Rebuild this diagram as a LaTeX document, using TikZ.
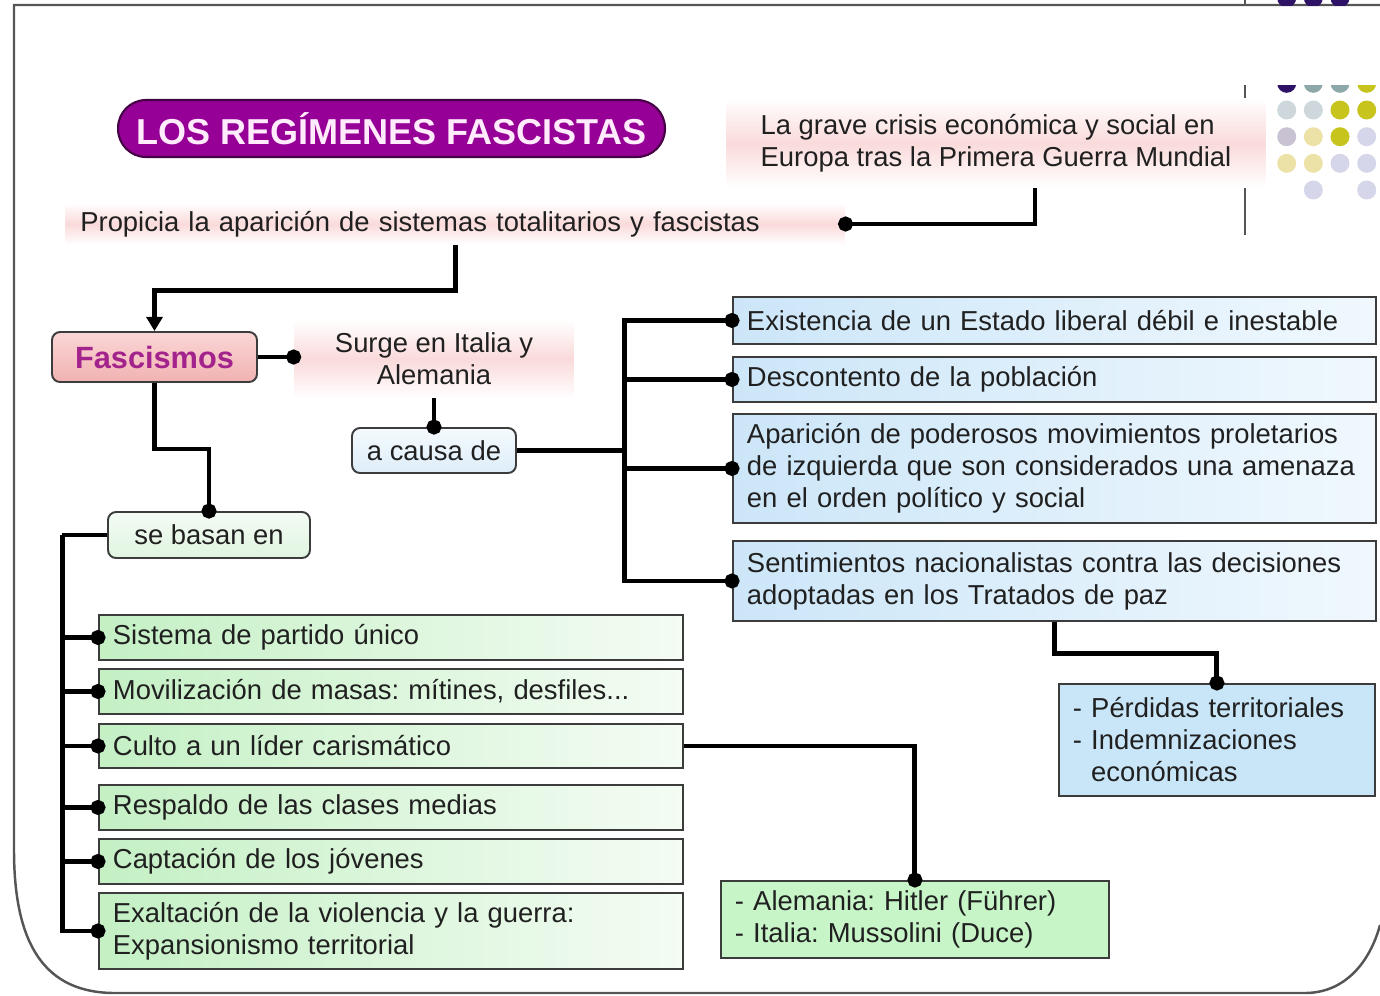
\documentclass[tikz,border=0pt]{standalone}
\usepackage{fontspec}
\setmainfont{Liberation Sans}
\frenchspacing
\usetikzlibrary{positioning}
\usetikzlibrary{arrows.meta}

\definecolor{titlepurple}{RGB}{150,0,150}
\definecolor{titleline}{RGB}{70,0,70}
\definecolor{titletext}{RGB}{255,235,252}
\definecolor{fascpink}{RGB}{163,35,140}
\definecolor{pinktop}{RGB}{251,214,214}
\definecolor{pinkbottom}{RGB}{241,178,178}
\definecolor{glowpink}{RGB}{250,218,218}
\definecolor{textgray}{RGB}{32,32,32}
\definecolor{boxline}{RGB}{60,60,60}
\definecolor{blueleft}{RGB}{204,230,248}
\definecolor{blueright}{RGB}{240,248,254}
\definecolor{bluetop}{RGB}{244,250,254}
\definecolor{bluebottom}{RGB}{222,237,249}
\definecolor{bluesolid}{RGB}{201,230,248}
\definecolor{greenleft}{RGB}{196,240,196}
\definecolor{greenright}{RGB}{244,252,244}
\definecolor{greentop}{RGB}{244,252,244}
\definecolor{greenbottom}{RGB}{224,244,224}
\definecolor{greensolid}{RGB}{200,245,200}
\definecolor{framegray}{RGB}{85,85,85}
\definecolor{dotpurple}{RGB}{45,18,102}
\definecolor{dotteal}{RGB}{140,168,168}
\definecolor{dotolive}{RGB}{200,196,30}
\definecolor{dotgray}{RGB}{206,216,220}
\definecolor{dotmauve}{RGB}{200,194,210}
\definecolor{dotcream}{RGB}{236,226,168}
\definecolor{dotlav}{RGB}{214,214,234}

\begin{document}
\begin{tikzpicture}[x=0.02cm, y=-0.02cm,
    every node/.style={font=\fontsize{15.6}{18.2}\selectfont, text=textgray},
    line/.style={line width=2.8pt},
    conn/.style={line, -{Circle[length=8.5pt]}, shorten >=-4.25pt},
    arr/.style={line, -{Triangle[length=8pt, width=9pt]}},
    box/.style={rectangle, draw=boxline, line width=1.1pt, anchor=north west, align=left, inner xsep=0.28cm, inner ysep=0pt},
    cause/.style={box, left color=blueleft, right color=blueright, text width=12.3cm},
    trait/.style={box, left color=greenleft, right color=greenright, text width=11.12cm},
    link/.style={rectangle, rounded corners=0.16cm, draw=boxline, line width=1.1pt, inner sep=0pt},
    glow/.style={rectangle, inner sep=0pt, top color=white, bottom color=white, middle color=glowpink}]
    \useasboundingbox (0,0) rectangle (1380,995);

    \draw[framegray, line width=1.4pt] (1380,5) -- (14,5) -- (14,850) .. controls (14,945) and (45,993) .. (115,993) -- (1305,993) .. controls (1345,993) and (1370,962) .. (1380,925);
    \draw[framegray, line width=0.8pt] (1245,0) -- (1245,5) (1245,85) -- (1245,235);
    \begin{scope}
        \clip (1260,0) rectangle (1380,5);
        \foreach \x in {1286.7,1313.3,1340}
            \fill[dotpurple] (\x,-2) circle[radius=0.19cm];
    \end{scope}
    \begin{scope}
        \clip (1260,85) rectangle (1380,100);
        \foreach \x/\c in {1286.7/dotpurple, 1313.3/dotteal, 1340/dotteal, 1366.7/dotolive}
            \fill[\c] (\x,83.3) circle[radius=0.19cm];
    \end{scope}
    \foreach \x/\y/\c in {1286.7/110/dotgray, 1313.3/110/dotgray, 1340/110/dotolive, 1366.7/110/dotolive,
        1286.7/136.7/dotmauve, 1313.3/136.7/dotcream, 1340/136.7/dotolive, 1366.7/136.7/dotlav,
        1286.7/163.3/dotcream, 1313.3/163.3/dotcream, 1340/163.3/dotlav, 1366.7/163.3/dotlav,
        1313.3/190/dotlav, 1366.7/190/dotlav}
        \fill[\c] (\x,\y) circle[radius=0.19cm];

    \node[rectangle, rounded corners=0.56cm, minimum width=10.94cm, minimum height=1.14cm, fill=titlepurple, draw=titleline, line width=1.2pt, font=\fontsize{20.5}{24}\selectfont\bfseries, text=titletext] (title) at (391.5,128.5) {LOS REGÍMENES FASCISTAS};

    \node[glow, align=left, minimum width=10.8cm, minimum height=1.8cm] (crisis) at (996,143) {La grave crisis económica y social en\\Europa tras la Primera Guerra Mundial};
    \node[glow, anchor=west, minimum height=0.84cm, text width=15cm, align=left, inner xsep=0.3cm] (propicia) at (65,224) {Propicia la aparición de sistemas totalitarios y fascistas};

    \node[link, top color=pinktop, bottom color=pinkbottom, minimum width=4.1cm, minimum height=1cm, font=\fontsize{17.5}{20}\selectfont\bfseries, text=fascpink] (fasc) at (154.5,357) {Fascismos};
    \node[glow, align=center, minimum width=5.6cm, minimum height=1.56cm] (surge) at (434,359) {Surge en Italia y\\Alemania};
    \node[link, top color=bluetop, bottom color=bluebottom, minimum width=3.28cm, minimum height=0.9cm] (acausa) at (434,450.5) {a causa de};
    \node[link, top color=greentop, bottom color=greenbottom, minimum width=4.04cm, minimum height=0.92cm] (sebasan) at (209,535) {se basan en};

    \node[cause, minimum height=0.94cm] (estado) at (732,296) {Existencia de un Estado liberal débil e inestable};
    \node[cause, minimum height=0.9cm] (descontento) at (732,356) {Descontento de la población};
    \node[cause, minimum height=2.18cm] (movimientos) at (732,413) {Aparición de poderosos movimientos proletarios\\de izquierda que son considerados una amenaza\\en el orden político y social};
    \node[cause, minimum height=1.6cm] (tratados) at (732,540) {Sentimientos nacionalistas contra las decisiones\\adoptadas en los Tratados de paz};
    \node[box, fill=bluesolid, text width=5.76cm, minimum height=2.24cm] (perdidas) at (1058,683) {- Pérdidas territoriales\\- Indemnizaciones\\\phantom{- }económicas};

    \node[trait, minimum height=0.9cm] (partido) at (98,614) {Sistema de partido único};
    \node[trait, minimum height=0.9cm] (masas) at (98,668) {Movilización de masas: mítines, desfiles...};
    \node[trait, minimum height=0.88cm] (lider) at (98,723) {Culto a un líder carismático};
    \node[trait, minimum height=0.9cm] (clases) at (98,784) {Respaldo de las clases medias};
    \node[trait, minimum height=0.9cm] (jovenes) at (98,838) {Captación de los jóvenes};
    \node[trait, minimum height=1.52cm] (violencia) at (98,892) {Exaltación de la violencia y la guerra:\\Expansionismo territorial};
    \node[box, fill=greensolid, text width=7.2cm, minimum height=1.54cm] (hitler) at (720,880) {- Alemania: Hitler (Führer)\\- Italia: Mussolini (Duce)};

    \coordinate[right=2.16cm of acausa.east] (spineR);
    \coordinate[left=0.9cm of sebasan.west] (spineL);

    \draw[conn] ([xshift=0.78cm]crisis.south) |- (propicia.east);
    \draw[arr] (propicia.south) -- ++(0,45) -| (fasc.north);
    \draw[conn] (fasc.east) -- (fasc.east -| surge.west);
    \draw[conn] (surge.south) -- (acausa.north);
    \draw[line] (acausa.east) -- (spineR);
    \foreach \c in {estado,descontento,movimientos,tratados}
        \draw[conn] (spineR) |- (\c.west);
    \draw[conn] (tratados.south) -- ++(0,32) -| (perdidas.north);
    \draw[conn] (fasc.south) -- ++(0,66) -| (sebasan.north);
    \draw[line] (sebasan.west) -- (spineL);
    \foreach \c in {partido,masas,lider,clases,jovenes,violencia}
        \draw[conn] (spineL) |- (\c.west);
    \draw[conn] (lider.east) -| (hitler.north);
\end{tikzpicture}
\end{document}
